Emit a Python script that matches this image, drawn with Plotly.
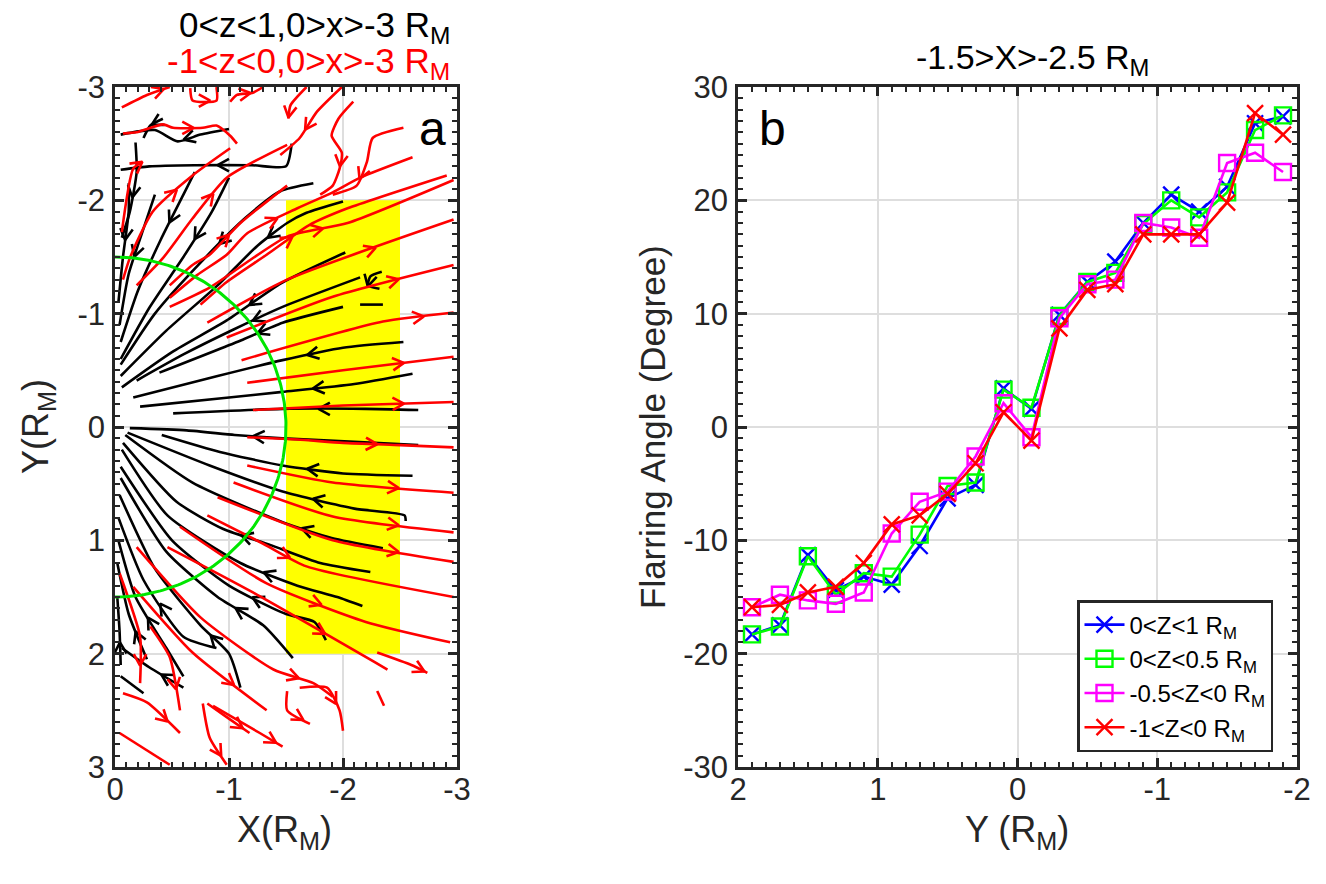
import math
import numpy as np
import plotly.graph_objects as go

W, H = 1326, 884
FONT = "Liberation Sans, Arial, sans-serif"
DARK = "#262626"

# ---------------- Panel b data ----------------
y_pos = [1.9, 1.7, 1.5, 1.3, 1.1, 0.9, 0.7, 0.5, 0.3, 0.1,
         -0.1, -0.3, -0.5, -0.7, -0.9, -1.1, -1.3, -1.5, -1.7, -1.9]
angle_z0_1 = [-18.3, -17.5, -11.3, -14.4, -13.2, -13.9, -10.5, -6.3, -5.1, 3.4,
              1.6, 9.9, 12.8, 14.6, 18.0, 20.5, 19.0, 21.2, 26.8, 27.4]
angle_z0_05 = [-18.3, -17.6, -11.4, -14.8, -12.9, -13.2, -9.5, -5.2, -4.9, 3.3,
               1.7, 9.8, 12.8, 13.6, 17.9, 20.0, 18.5, 20.7, 26.2, 27.5]
angle_zm05_0 = [-15.9, -14.8, -15.3, -15.6, -14.6, -9.4, -6.6, -5.7, -2.6, 2.1,
                -0.9, 9.6, 12.6, 13.0, 18.0, 17.6, 16.7, 23.3, 24.2, 22.5]
angle_zm1_0 = [-15.9, -15.7, -14.6, -14.1, -12.0, -8.6, -7.8, -5.9, -3.2, 1.3,
               -1.2, 8.7, 12.1, 12.6, 17.0, 17.0, 17.0, 19.8, 27.7, 25.8]
series_names = ["0&lt;Z&lt;1 R<sub>M</sub>", "0&lt;Z&lt;0.5 R<sub>M</sub>",
                "-0.5&lt;Z&lt;0 R<sub>M</sub>", "-1&lt;Z&lt;0 R<sub>M</sub>"]

# ---------------- Panel a data (streamlines, X,Y in R_M) ----------------
# black: 0<z<1 (listed from origin outward; flow points toward origin)
black_lines = [
    [(-0.51, -0.12), (-1.47, -0.16), (-2.2, -0.16), (-2.66, -0.15)],
    [(-0.22, -0.18), (-1.0, -0.26), (-1.47, -0.31), (-2.1, -0.38), (-2.61, -0.47)],
    [(-0.16, -0.26), (-0.9, -0.45), (-1.47, -0.59), (-2.0, -0.70), (-2.53, -0.75)],
    [(-0.39, -0.48), (-1.12, -0.77), (-1.47, -0.92), (-2.0, -1.06)],
    [(-2.15, -1.08), (-2.35, -1.08)],
    [(-0.19, -0.41), (-0.6, -0.64), (-1.04, -0.86), (-1.47, -1.06), (-2.15, -1.32)],
    [(-2.32, -1.22), (-2.22, -1.25), (-2.24, -1.33), (-2.34, -1.37)],
    [(-0.06, -0.35), (-0.5, -0.66), (-0.98, -0.94), (-1.46, -1.27), (-2.02, -1.54)],
    [(-0.05, -0.45), (-0.45, -0.85), (-0.9, -1.25), (-1.25, -1.6), (-1.51, -1.80), (-1.68, -1.89), (-2.0, -1.99)],
    [(-0.05, -0.55), (-0.35, -1.0), (-0.75, -1.45), (-1.15, -1.85), (-1.45, -2.08), (-1.74, -2.15)],
    [(-0.05, -0.6), (-0.3, -1.05), (-0.6, -1.5), (-0.85, -1.9), (-1.0, -2.2)],
    [(-0.05, -0.75), (-0.2, -1.2), (-0.4, -1.65), (-0.6, -2.05), (-0.7, -2.25)],
    [(-0.04, -0.9), (-0.12, -1.35), (-0.25, -1.75), (-0.35, -2.05)],
    [(-0.03, -1.1), (-0.07, -1.5), (-0.12, -1.9), (-0.12, -2.15)],
    [(-0.06, -1.67), (-0.13, -1.9), (-0.19, -2.25), (-0.18, -2.51)],
    [(-0.05, -2.27), (-0.3, -2.3), (-0.7, -2.31), (-1.2, -2.31), (-1.5, -2.3), (-1.55, -2.5)],
    [(-0.05, -2.58), (-0.35, -2.62), (-0.55, -2.52), (-0.75, -2.58), (-1.0, -2.63)],
    [(-0.25, -2.55), (-0.31, -2.66), (-0.42, -2.72)],
    [(-0.13, 0.01), (-0.63, 0.03), (-1.05, 0.07), (-1.47, 0.10), (-2.1, 0.13), (-2.66, 0.16)],
    [(-0.41, 0.07), (-0.92, 0.22), (-1.47, 0.34), (-2.0, 0.41), (-2.61, 0.43)],
    [(-0.11, 0.05), (-0.83, 0.34), (-1.47, 0.57), (-2.1, 0.72), (-2.54, 0.78), (-2.55, 0.83)],
    [(-0.09, 0.07), (-0.68, 0.49), (-1.47, 0.84), (-1.9, 0.98), (-2.35, 1.07)],
    [(-0.07, 0.14), (-0.54, 0.66), (-0.95, 0.9), (-1.36, 1.04), (-1.8, 1.2), (-2.24, 1.28)],
    [(-0.06, 0.2), (-0.46, 0.78), (-1.1, 1.2), (-1.6, 1.4), (-1.95, 1.5), (-2.17, 1.58)],
    [(-0.05, 0.35), (-0.5, 1.0), (-1.0, 1.4), (-1.5, 1.65), (-1.75, 1.72), (-1.85, 1.88)],
    [(-0.05, 0.45), (-0.45, 1.1), (-0.9, 1.5), (-1.3, 1.75), (-1.56, 2.04)],
    [(-0.04, 0.6), (-0.35, 1.25), (-0.75, 1.75), (-1.0, 2.0), (-1.1, 2.3)],
    [(-0.03, 0.8), (-0.25, 1.35), (-0.6, 1.85), (-0.89, 1.95)],
    [(-0.03, 1.0), (-0.18, 1.5), (-0.45, 1.95), (-0.6, 2.2)],
    [(-0.02, 1.2), (-0.12, 1.65), (-0.28, 2.05)],
    [(-0.02, 1.5), (-0.04, 1.8), (-0.05, 2.1)],
    [(-0.06, 1.95), (-0.3, 2.12), (-0.6, 2.3)],
    [(-0.05, 2.2), (-0.25, 2.35)],
]
# red: -1<z<0 (listed in flow direction)
red_lines = [
    [(-1.21, -0.15), (-2.0, -0.19), (-2.97, -0.22)],
    [(-1.16, -0.39), (-2.0, -0.5), (-2.97, -0.62)],
    [(-1.11, -0.59), (-2.35, -0.93), (-2.97, -1.01)],
    [(-0.98, -0.79), (-1.91, -1.15), (-2.97, -1.43)],
    [(-0.81, -0.92), (-1.51, -1.30), (-2.97, -1.83)],
    [(-0.48, -1.06), (-0.83, -1.23), (-1.51, -1.68), (-2.04, -1.80), (-2.97, -2.18)],
    [(-0.75, -1.08), (-0.98, -1.28), (-1.33, -1.52), (-1.7, -1.78), (-2.04, -1.93), (-2.91, -2.22)],
    [(-0.48, -1.14), (-0.72, -1.34), (-0.98, -1.52), (-1.16, -1.71), (-1.6, -1.93), (-1.91, -2.07), (-2.15, -2.2), (-2.61, -2.38)],
    [(-0.07, -1.3), (-0.13, -1.49), (-0.33, -1.9), (-0.68, -2.22), (-1.01, -2.46)],
    [(-0.19, -1.25), (-0.42, -1.49), (-0.68, -1.84), (-0.98, -2.2), (-1.51, -2.49)],
    [(-0.48, -1.25), (-0.68, -1.43), (-0.83, -1.52), (-1.1, -1.8), (-1.51, -2.13)],
    [(-2.53, -2.64), (-2.26, -2.55), (-2.21, -2.34), (-2.12, -2.13), (-1.91, -2.05)],
    [(-2.09, -2.87), (-1.96, -2.72), (-1.9, -2.57), (-1.99, -2.42), (-1.97, -2.28), (-1.91, -2.13), (-1.8, -2.05)],
    [(-1.99, -3.0), (-1.77, -2.78), (-1.62, -2.55), (-1.45, -2.4)],
    [(-1.68, -3.0), (-1.54, -2.84), (-1.52, -2.72)],
    [(-0.06, -2.82), (-0.28, -2.93), (-0.48, -3.0)],
    [(-0.07, -2.59), (-0.19, -2.6), (-0.42, -2.67), (-0.51, -2.64), (-0.77, -2.64), (-0.89, -2.66), (-1.01, -2.57), (-1.07, -2.5)],
    [(-0.66, -2.99), (-0.68, -2.88), (-0.89, -2.88), (-0.89, -3.0)],
    [(-1.01, -2.87), (-1.07, -2.93), (-1.21, -2.95), (-1.3, -3.0)],
    [(-0.06, -1.72), (-0.16, -2.28), (-0.24, -2.34)],
    [(-1.16, 0.09), (-1.6, 0.11), (-2.0, 0.14), (-2.5, 0.16), (-2.97, 0.18)],
    [(-1.16, 0.34), (-1.91, 0.49), (-2.97, 0.58)],
    [(-1.04, 0.49), (-1.91, 0.79), (-2.97, 0.93)],
    [(-0.9, 0.62), (-1.91, 1.0), (-2.97, 1.19)],
    [(-0.81, 0.78), (-1.3, 1.03), (-1.68, 1.23), (-2.97, 1.5)],
    [(-0.57, 0.88), (-1.33, 1.38), (-2.2, 1.72), (-2.94, 1.9)],
    [(-0.46, 1.06), (-1.21, 1.46), (-2.39, 2.14)],
    [(-2.3, 1.99), (-2.6, 2.1), (-2.74, 2.17)],
    [(-0.19, 1.06), (-0.75, 1.68), (-1.39, 2.14), (-1.74, 2.26), (-1.91, 2.38)],
    [(-0.16, 1.41), (-0.68, 1.99), (-1.33, 2.5)],
    [(-0.04, 1.29), (-0.22, 1.85), (-0.22, 2.26)],
    [(-0.31, 1.76), (-0.48, 2.03), (-0.57, 2.5)],
    [(-0.07, 2.35), (-0.28, 2.43), (-0.57, 2.7)],
    [(-0.04, 2.7), (-0.48, 2.98)],
    [(-0.81, 2.44), (-0.98, 2.56), (-1.18, 2.7)],
    [(-0.77, 2.44), (-0.83, 2.74), (-0.98, 2.98)],
    [(-1.51, 2.33), (-1.51, 2.5), (-1.71, 2.62)],
    [(-1.62, 2.3), (-1.86, 2.3), (-1.97, 2.5), (-2.0, 2.68)],
    [(-0.86, 2.46), (-1.27, 2.7), (-1.47, 2.82)],
    [(-2.3, 2.33), (-2.36, 2.46)],
]
box_x = [-1.5, -2.5]
box_y = [-2.0, 2.0]
circle_radius = 1.5

# ---------------- figure ----------------
fig = go.Figure()


def px_x(p):
    return p / W


def px_y(p):
    return 1 - p / H


def joined(lines):
    xs, ys = [], []
    for ln in lines:
        for (x, y) in ln:
            xs.append(x)
            ys.append(y)
        xs.append(None)
        ys.append(None)
    return xs, ys


def chevrons(lines, reverse, size=0.1, spread=0.55):
    """Open arrowheads at the middle segment of each streamline."""
    xs, ys = [], []
    for pts in lines:
        n = len(pts)
        if n < 3:
            continue
        i = (n - 1) // 2
        (x0, y0), (x1, y1) = pts[i], pts[i + 1]
        if reverse:
            (x0, y0), (x1, y1) = (x1, y1), (x0, y0)
        dx, dy = x1 - x0, y1 - y0
        L = math.hypot(dx, dy)
        if L == 0:
            continue
        ux, uy = dx / L, dy / L
        nx, ny = -uy, ux
        hx, hy = (x0 + x1) / 2 + 0.5 * size * ux, (y0 + y1) / 2 + 0.5 * size * uy
        bx, by = hx - size * ux, hy - size * uy
        xs += [bx + spread * size * nx, hx, bx - spread * size * nx, None]
        ys += [by + spread * size * ny, hy, by - spread * size * ny, None]
    return xs, ys


# yellow region
fig.add_trace(go.Scatter(
    x=[box_x[0], box_x[1], box_x[1], box_x[0], box_x[0]],
    y=[box_y[0], box_y[0], box_y[1], box_y[1], box_y[0]],
    fill="toself", fillcolor="#ffff00", line=dict(width=0), mode="lines",
    hoverinfo="skip", showlegend=False, xaxis="x", yaxis="y"))

for lines, col, rev in [(black_lines, "black", True), (red_lines, "#ff0000", False)]:
    lx, ly = joined(lines)
    fig.add_trace(go.Scatter(x=lx, y=ly, mode="lines",
                             line=dict(color=col, width=2.6, shape="spline", smoothing=0.6),
                             showlegend=False, hoverinfo="skip", xaxis="x", yaxis="y"))
    cx, cy = chevrons(lines, rev)
    fig.add_trace(go.Scatter(x=cx, y=cy, mode="lines",
                             line=dict(color=col, width=2.6),
                             showlegend=False, hoverinfo="skip", xaxis="x", yaxis="y"))

th = np.linspace(-np.pi / 2, np.pi / 2, 200)
fig.add_trace(go.Scatter(x=-circle_radius * np.cos(th), y=circle_radius * np.sin(th),
                         mode="lines", line=dict(color="#00e600", width=3),
                         showlegend=False, hoverinfo="skip", xaxis="x", yaxis="y"))

# panel b series
colors = ["#0000ff", "#00ff00", "#ff00ff", "#ff0000"]
symbols = ["x-thin", "square-open", "square-open", "x-thin"]
for vals, name, col, sym in zip([angle_z0_1, angle_z0_05, angle_zm05_0, angle_zm1_0],
                                series_names, colors, symbols):
    fig.add_trace(go.Scatter(
        x=y_pos, y=vals, name=name, mode="lines+markers",
        line=dict(color=col, width=2.6),
        marker=dict(symbol=sym, size=16, color=col, line=dict(color=col, width=2.4)),
        xaxis="x2", yaxis="y2"))

TICKFONT = dict(family=FONT, size=31, color=DARK)


def ax_style(rng, tickvals, minor_dtick, domain, anchor, standoff):
    return dict(
        range=rng, domain=domain, anchor=anchor, automargin=False,
        tickmode="array", tickvals=tickvals,
        ticktext=[("%g" % v) for v in tickvals],
        showline=True, linecolor=DARK, linewidth=2.5, mirror="allticks",
        ticks="inside", ticklen=9, tickwidth=2.5, tickcolor=DARK,
        showgrid=True, gridcolor="#dedede", gridwidth=2, zeroline=False,
        tickfont=TICKFONT, ticklabelstandoff=standoff,
        minor=dict(tickmode="linear", tick0=0, dtick=minor_dtick, ticks="inside",
                   ticklen=5, tickwidth=2, tickcolor=DARK, showgrid=False),
    )


ydom = [px_y(767), px_y(87)]
fig.update_layout(
    width=W, height=H, margin=dict(l=0, r=0, t=0, b=0, pad=0, autoexpand=False),
    paper_bgcolor="white", plot_bgcolor="white",
    font=dict(family=FONT, color="black"),
    xaxis=ax_style([0, -3], [0, -1, -2, -3], 0.1, [px_x(115), px_x(457)], "y", -7),
    yaxis=ax_style([3, -3], [-3, -2, -1, 0, 1, 2, 3], 0.1, ydom, "x", 1),
    xaxis2=ax_style([2, -2], [2, 1, 0, -1, -2], 0.1, [px_x(738), px_x(1297)], "y2", -7),
    yaxis2=ax_style([-30, 30], [-30, -20, -10, 0, 10, 20, 30], 1, ydom, "x2", 1),
    legend=dict(x=px_x(1077), y=px_y(600), xanchor="left", yanchor="top",
                bgcolor="white", bordercolor=DARK, borderwidth=2.5,
                font=dict(family=FONT, size=24, color="black"),
                itemwidth=40, tracegroupgap=0),
    showlegend=True,
)

ann = [
    dict(text="0&lt;z&lt;1,0&gt;x&gt;-3 R<sub>M</sub>", x=px_x(452), y=px_y(27), xanchor="right",
         font=dict(size=35, color="black")),
    dict(text="-1&lt;z&lt;0,0&gt;x&gt;-3 R<sub>M</sub>", x=px_x(452), y=px_y(63), xanchor="right",
         font=dict(size=35, color="#ff0000")),
    dict(text="-1.5&gt;X&gt;-2.5 R<sub>M</sub>", x=px_x(1032), y=px_y(60), xanchor="center",
         font=dict(size=34, color="black")),
    dict(text="a", x=px_x(432), y=px_y(128), xanchor="center", font=dict(size=48, color="black")),
    dict(text="b", x=px_x(772), y=px_y(128), xanchor="center", font=dict(size=48, color="black")),
    dict(text="X(R<sub>M</sub>)", x=px_x(284), y=px_y(832), xanchor="center", font=dict(size=36, color=DARK)),
    dict(text="Y (R<sub>M</sub>)", x=px_x(1017), y=px_y(832), xanchor="center", font=dict(size=36, color=DARK)),
    dict(text="Y(R<sub>M</sub>)", x=px_x(38), y=px_y(427), xanchor="center", yanchor="middle",
         textangle=-90, font=dict(size=36, color=DARK)),
    dict(text="Flarring Angle (Degree)", x=px_x(652), y=px_y(427), xanchor="center", yanchor="middle",
         textangle=-90, font=dict(size=35, color=DARK)),
]
for a in ann:
    a.setdefault("yanchor", "middle")
    fig.add_annotation(xref="paper", yref="paper", showarrow=False,
                       font_family=FONT, **{k: v for k, v in a.items()})

fig.write_html("out.html")
